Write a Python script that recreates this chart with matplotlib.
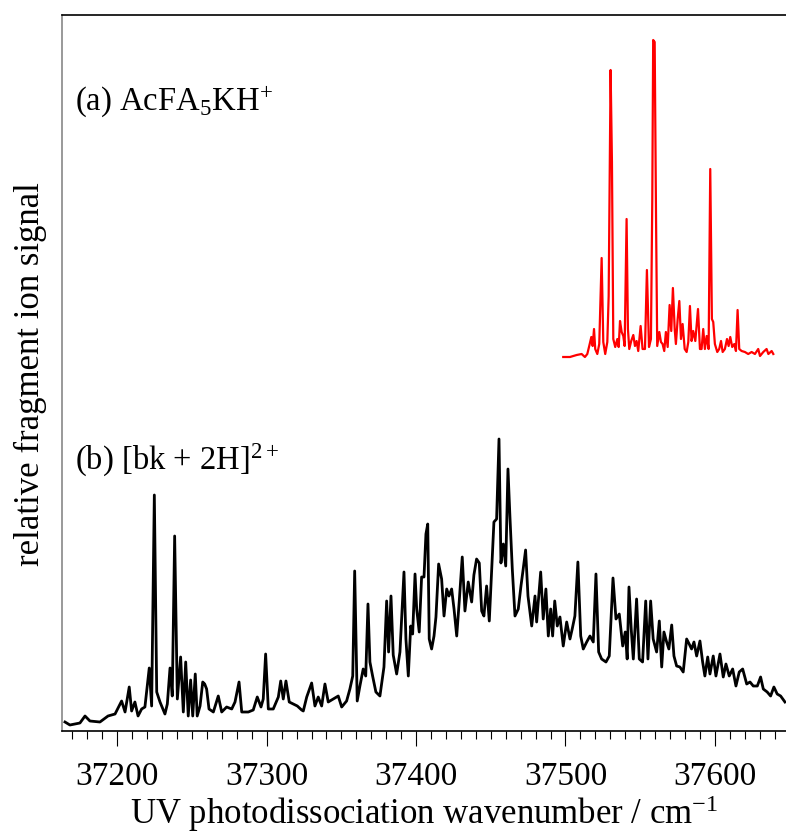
import matplotlib
matplotlib.use("Agg")
import matplotlib.pyplot as plt
from matplotlib.ticker import MultipleLocator

# (b) [bk + 2H]2+ spectrum, wavenumber / cm-1 and signal (arb. units)
black_wn = [37165.0, 37168.3, 37175.0, 37178.4, 37181.7, 37188.4, 37193.8, 37198.5,
            37202.9, 37205.2, 37208.0, 37209.6, 37211.8, 37213.9, 37216.3, 37218.5,
            37221.4, 37223.0, 37224.8, 37226.4, 37228.6, 37231.9, 37233.5, 37235.3,
            37236.8, 37238.4, 37240.2, 37242.4, 37244.2, 37245.8, 37247.5, 37249.1,
            37250.5, 37252.2, 37253.5, 37255.4, 37257.2, 37258.5, 37259.8, 37261.4,
            37264.3, 37267.6, 37269.9, 37273.2, 37276.6, 37278.8, 37281.5, 37283.3,
            37287.7, 37291.0, 37293.7, 37296.2, 37297.7, 37299.3, 37301.1, 37304.4,
            37307.8, 37309.4, 37311.1, 37312.9, 37315.1, 37317.8, 37320.5, 37323.4,
            37324.5, 37326.8, 37330.1, 37332.3, 37334.5, 37336.8, 37339.0, 37341.2,
            37344.6, 37347.9, 37350.2, 37353.5, 37355.7, 37357.6, 37358.9, 37360.6,
            37362.4, 37364.6, 37366.3, 37367.8, 37369.1, 37370.9, 37373.1, 37375.8,
            37378.5, 37380.3, 37381.6, 37383.2, 37384.7, 37387.0, 37389.2, 37391.9,
            37393.2, 37394.8, 37396.4, 37397.7, 37399.3, 37400.4, 37402.1, 37403.7,
            37405.3, 37406.6, 37407.8, 37408.8, 37410.4, 37412.0, 37413.3, 37415.1,
            37417.1, 37418.7, 37420.5, 37422.0, 37423.8, 37425.4, 37427.2, 37428.9,
            37430.9, 37432.7, 37434.9, 37437.2, 37438.7, 37440.5, 37442.3, 37443.9,
            37445.4, 37447.2, 37449.0, 37450.6, 37452.1, 37453.9, 37455.5, 37456.8,
            37458.4, 37460.0, 37461.5, 37462.8, 37464.4, 37466.2, 37468.4, 37470.2,
            37471.7, 37473.3, 37474.9, 37477.4, 37479.6, 37480.7, 37483.4, 37485.1,
            37486.9, 37488.5, 37490.1, 37491.4, 37492.8, 37494.5, 37496.3, 37498.5,
            37500.8, 37503.0, 37504.5, 37506.3, 37508.3, 37510.2, 37511.9, 37514.2,
            37516.4, 37518.6, 37520.4, 37522.2, 37524.2, 37527.1, 37529.3, 37531.8,
            37533.8, 37536.0, 37538.3, 37540.0, 37541.3, 37542.5, 37544.0, 37545.4,
            37547.6, 37549.4, 37551.6, 37553.7, 37555.2, 37557.0, 37558.7, 37561.0,
            37562.8, 37564.4, 37565.9, 37567.7, 37569.2, 37571.1, 37572.6, 37574.4,
            37576.6, 37578.8, 37581.1, 37582.8, 37584.4, 37586.0, 37587.8, 37590.0,
            37591.8, 37593.3, 37595.2, 37596.7, 37598.9, 37600.7, 37603.4, 37605.6,
            37607.4, 37609.6, 37611.9, 37614.1, 37616.3, 37618.6, 37621.3, 37623.5,
            37625.7, 37628.4, 37630.6, 37632.4, 37635.0, 37637.3, 37639.5, 37641.7,
            37644.0, 37646.9]
black_sig = [9, 6, 8, 15, 10, 9, 15, 17,
             30, 19, 44, 20, 29, 15, 22, 24,
             63, 25, 236, 39, 29, 17, 27, 63,
             35, 195, 32, 74, 19, 69, 15, 51,
             15, 57, 15, 25, 49, 47, 42, 22,
             19, 35, 19, 24, 22, 29, 49, 19,
             19, 21, 34, 24, 32, 77, 22, 22,
             34, 50, 32, 50, 29, 27, 25, 21,
             20, 34, 48, 25, 34, 25, 47, 29,
             32, 35, 24, 30, 42, 55, 160, 30,
             45, 62, 55, 127, 69, 55, 39, 35,
             64, 130, 79, 135, 76, 57, 79, 159,
             92, 55, 105, 97, 157, 122, 99, 154,
             154, 197, 207, 92, 82, 95, 114, 167,
             152, 115, 142, 135, 142, 122, 95, 130,
             174, 120, 149, 129, 156, 172, 168, 120,
             115, 145, 110, 162, 209, 212, 292, 168,
             187, 165, 262, 215, 162, 115, 122, 145,
             162, 181, 135, 105, 135, 109, 159, 112,
             142, 95, 122, 95, 130, 105, 114, 85,
             109, 92, 102, 115, 169, 95, 82, 89,
             95, 89, 157, 79, 72, 69, 75, 153,
             112, 117, 85, 99, 72, 144, 102, 72,
             132, 72, 69, 130, 72, 130, 92, 79,
             110, 64, 99, 89, 82, 106, 75, 65,
             64, 59, 92, 87, 82, 89, 75, 90,
             69, 55, 74, 57, 75, 55, 77, 54,
             67, 55, 62, 45, 59, 62, 47, 49,
             45, 45, 54, 42, 39, 35, 44, 37,
             35, 29]

# (a) AcFA5KH+ spectrum
red_wn = [37498.5, 37503.0, 37507.5, 37510.8, 37513.0, 37514.6, 37515.9, 37517.3,
          37518.2, 37519.1, 37519.9, 37521.3, 37522.6, 37524.2, 37525.3, 37526.6,
          37528.0, 37528.9, 37530.2, 37531.1, 37532.0, 37533.3, 37534.7, 37535.6,
          37536.5, 37537.6, 37538.7, 37539.6, 37540.9, 37541.8, 37542.7, 37544.0,
          37545.4, 37546.5, 37547.6, 37548.7, 37550.3, 37551.6, 37553.2, 37554.5,
          37555.9, 37557.2, 37558.1, 37558.7, 37559.7, 37560.6, 37561.4, 37562.8,
          37563.9, 37565.0, 37566.1, 37567.2, 37568.4, 37569.7, 37570.8, 37571.9,
          37573.1, 37573.9, 37575.1, 37576.2, 37577.3, 37578.4, 37579.8, 37581.1,
          37582.2, 37583.3, 37584.4, 37585.5, 37586.9, 37588.7, 37590.0, 37591.1,
          37592.2, 37593.3, 37594.5, 37595.8, 37596.9, 37598.0, 37598.9, 37600.0,
          37601.6, 37602.9, 37604.1, 37605.2, 37606.7, 37608.1, 37609.2, 37610.3,
          37611.6, 37613.0, 37614.1, 37615.2, 37616.3, 37617.9, 37620.1, 37622.3,
          37624.6, 37626.8, 37629.0, 37630.2, 37632.4, 37634.6, 37635.8, 37638.0,
          37639.1]
red_sig = [2, 2, 4, 5, 2, 5, 13, 22,
           13, 30, 10, 5, 15, 101, 17, 5,
           17, 63, 289, 197, 20, 12, 20, 12,
           38, 27, 23, 13, 140, 30, 10, 18,
           24, 13, 18, 8, 33, 10, 10, 89,
           12, 20, 160, 319, 317, 143, 13, 27,
           17, 15, 8, 27, 12, 54, 28, 71,
           30, 15, 40, 58, 20, 35, 10, 7,
           17, 53, 18, 28, 18, 50, 10, 10,
           30, 10, 23, 10, 190, 40, 37, 15,
           7, 10, 18, 7, 10, 20, 13, 22,
           12, 15, 8, 49, 10, 8, 7, 5,
           7, 5, 10, 3, 7, 10, 5, 8,
           5]
red_offset = 372

panel_labels = [r"(a) AcFA$_\mathregular{5}$KH$^\mathregular{+}$",
                r"(b) [bk + 2H]$^\mathregular{2+}$"]


def main():
    plt.rcParams["font.family"] = ["Liberation Serif", "DejaVu Serif"]
    plt.rcParams["mathtext.fontset"] = "custom"
    plt.rcParams["mathtext.rm"] = "Liberation Serif"
    plt.rcParams["mathtext.it"] = "Liberation Serif:italic"

    fig = plt.figure(figsize=(7.86, 8.37), dpi=100)
    ax = fig.add_axes([62 / 786, 105 / 837, 1 - 62 / 786, 716 / 837])

    ax.plot(black_wn, black_sig, color="black", lw=2.0, solid_joinstyle="round")
    ax.plot(red_wn, [s + red_offset for s in red_sig], color="red", lw=1.6,
            solid_joinstyle="round")

    ax.set_xlim(37163, 37647.6)
    ax.set_ylim(0, 716)

    ax.xaxis.set_major_locator(MultipleLocator(100))
    ax.xaxis.set_minor_locator(MultipleLocator(10))
    ax.tick_params(axis="x", which="major", direction="out", length=11, width=0.8,
                   labelsize=24, pad=10)
    ax.tick_params(axis="x", which="minor", direction="out", length=5.5, width=0.8)
    ax.set_yticks([])

    ax.spines["right"].set_visible(False)
    ax.spines["left"].set_color("#888888")
    for side in ["left", "top", "bottom"]:
        ax.spines[side].set_linewidth(1.2)

    ax.set_xlabel(r"UV photodissociation wavenumber / cm$^\mathregular{-1}$",
                  fontsize=25, labelpad=1)
    ax.set_ylabel("relative fragment ion signal", fontsize=25, labelpad=11)

    ax.text(0.018, 0.869, panel_labels[0], transform=ax.transAxes, fontsize=23.5)
    ax.text(0.018, 0.366, panel_labels[1], transform=ax.transAxes, fontsize=23.5)

    fig.savefig("out.png", dpi=100)


if __name__ == '__main__':
    main()
